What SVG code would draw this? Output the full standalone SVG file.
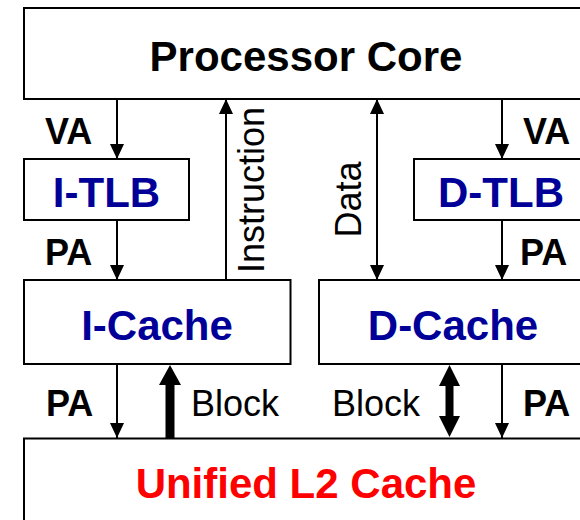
<svg xmlns="http://www.w3.org/2000/svg" width="580" height="520" viewBox="0 0 580 520">
<style>
.box{fill:#fff;stroke:#000;stroke-width:2}
.t{font-family:"Liberation Sans",Arial,sans-serif;font-weight:bold;font-size:42px;text-anchor:middle}
.blue{fill:#000099}
.lab{font-family:"Liberation Sans",Arial,sans-serif;font-size:36px;fill:#000}
.b{font-weight:bold}
.ln{stroke:#000;stroke-width:2;fill:none}
</style>
<defs>
<marker id="ah" markerUnits="userSpaceOnUse" markerWidth="16" markerHeight="14" refX="15" refY="7" orient="auto-start-reverse" viewBox="0 0 16 14">
<path d="M0,0 L15,7 L0,14 z" fill="#000"/>
</marker>
</defs>
<rect width="580" height="520" fill="#fff"/>
<g id="core"><rect class="box" x="24" y="8" width="566" height="91"/><text class="t" x="306" y="71">Processor Core</text></g>
<g id="itlb"><rect class="box" x="24" y="159" width="165" height="61"/><text class="t blue" x="106.5" y="207">I-TLB</text></g>
<g id="dtlb"><rect class="box" x="414" y="159" width="174" height="61"/><text class="t blue" x="501" y="207">D-TLB</text></g>
<g id="icache"><rect class="box" x="24" y="280" width="266.5" height="84"/><text class="t blue" x="157" y="340">I-Cache</text></g>
<g id="dcache"><rect class="box" x="319" y="280" width="269" height="84"/><text class="t blue" x="453" y="340">D-Cache</text></g>
<g id="l2"><rect class="box" x="24" y="438.5" width="566" height="100"/><text class="t" x="306" y="498" fill="#ff0000">Unified L2 Cache</text></g>
<g id="connectors">
<line class="ln" x1="117" y1="99" x2="117" y2="159" marker-end="url(#ah)"/>
<line class="ln" x1="117" y1="220" x2="117" y2="280" marker-end="url(#ah)"/>
<line class="ln" x1="226" y1="280" x2="226" y2="99" marker-end="url(#ah)"/>
<line class="ln" x1="377" y1="99" x2="377" y2="280" marker-start="url(#ah)" marker-end="url(#ah)"/>
<line class="ln" x1="502" y1="99" x2="502" y2="159" marker-end="url(#ah)"/>
<line class="ln" x1="502" y1="220" x2="502" y2="280" marker-end="url(#ah)"/>
<line class="ln" x1="117" y1="364" x2="117" y2="438" marker-end="url(#ah)"/>
<line class="ln" x1="502" y1="364" x2="502" y2="438" marker-end="url(#ah)"/>
<path d="M170,365 L181,385 L174.5,385 L174.5,438 L165.5,438 L165.5,385 L159,385 Z" fill="#000"/>
<path d="M449.5,365 L460,386 L453.5,386 L453.5,416 L460,416 L449.5,437 L439,416 L445.5,416 L445.5,386 L439,386 Z" fill="#000"/>
</g>
<g id="labels">
<text class="lab b" x="45" y="144">VA</text>
<text class="lab b" x="523" y="144">VA</text>
<text class="lab b" x="45" y="265">PA</text>
<text class="lab b" x="520" y="265">PA</text>
<text class="lab b" x="46" y="416">PA</text>
<text class="lab b" x="523" y="416">PA</text>
<text class="lab" x="191" y="416">Block</text>
<text class="lab" x="332" y="416">Block</text>
<text class="lab" transform="translate(264,190) rotate(-90)" text-anchor="middle">Instruction</text>
<text class="lab" transform="translate(361,199.5) rotate(-90)" text-anchor="middle">Data</text>
</g>
</svg>
